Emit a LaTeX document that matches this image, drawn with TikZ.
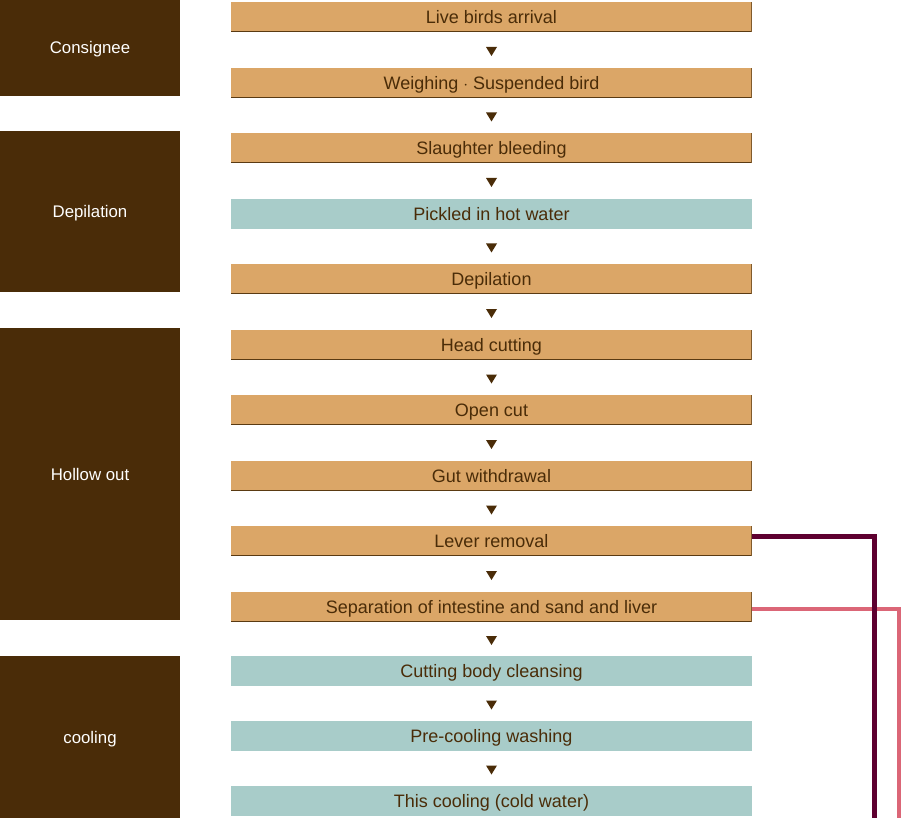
\documentclass[tikz,border=0pt]{standalone}
\usepackage{fontspec}
\setmainfont{Liberation Sans}
\definecolor{boxorange}{HTML}{DBA667}
\definecolor{boxteal}{HTML}{A8CCC9}
\definecolor{sidebrown}{HTML}{4A2C08}
\definecolor{txtbrown}{HTML}{4A2C08}
\definecolor{shadowbrown}{HTML}{5A3A12}
\definecolor{lineplum}{HTML}{5E0030}
\definecolor{linepink}{HTML}{DB6677}
\tikzset{
  stepbox/.style={rectangle, minimum width=521pt, minimum height=30pt, inner sep=0pt, text=txtbrown, font=\fontsize{18}{20}\selectfont, text height=12.9pt, text depth=0pt},
  orangebox/.style={stepbox, fill=boxorange, path picture={\fill[shadowbrown] ([yshift=1.2pt]path picture bounding box.south west) rectangle (path picture bounding box.south east);
    \fill[shadowbrown!70!boxorange] ([xshift=-1pt]path picture bounding box.south east) rectangle (path picture bounding box.north east);}},
  tealbox/.style={stepbox, fill=boxteal},
  sidebox/.style={rectangle, fill=sidebrown, inner sep=0pt, minimum width=180pt, text=white, font=\fontsize{16.8}{19}\selectfont, text height=12pt, text depth=0pt},
  flowarrow/.style={fill=txtbrown, draw=none},
}
\begin{document}
\begin{tikzpicture}[x=1pt,y=-1pt]
\useasboundingbox (0,0) rectangle (902,818);
% side boxes
\node[sidebox, minimum height=96pt] (sa) at (90,48) {Consignee};
\node[sidebox, minimum height=161pt] (sb) at (90,211.5) {Depilation};
\node[sidebox, minimum height=292pt] (sc) at (90,474) {Hollow out};
\node[sidebox, minimum height=162pt] (sd) at (90,737) {cooling};
% steps
\node[orangebox] (n1) at (491.5,17) {Live birds arrival};
\node[orangebox] (n2) at (491.5,83) {Weighing $\cdot$ Suspended bird};
\node[orangebox] (n3) at (491.5,148) {Slaughter bleeding};
\node[tealbox] (n4) at (491.5,214) {Pickled in hot water};
\node[orangebox] (n5) at (491.5,279) {Depilation};
\node[orangebox] (n6) at (491.5,345) {Head cutting};
\node[orangebox] (n7) at (491.5,410) {Open cut};
\node[orangebox] (n8) at (491.5,476) {Gut withdrawal};
\node[orangebox] (n9) at (491.5,541) {Lever removal};
\node[orangebox] (n10) at (491.5,607) {Separation of intestine and sand and liver};
\node[tealbox] (n11) at (491.5,671) {Cutting body cleansing};
\node[tealbox] (n12) at (491.5,736) {Pre-cooling washing};
\node[tealbox] (n13) at (491.5,801) {This cooling (cold water)};
% arrows (triangles between boxes)
\foreach \a/\b in {n1/n2,n2/n3,n3/n4,n4/n5,n5/n6,n6/n7,n7/n8,n8/n9,n9/n10,n10/n11,n11/n12,n12/n13}{
  \path (\a.south) -- (\b.north) coordinate[pos=0.5] (m\a);
  \fill[flowarrow] ([xshift=-5.5pt,yshift=3pt]m\a) -- ([xshift=5.5pt,yshift=3pt]m\a) -- ([yshift=-6pt]m\a) -- cycle;
}
% side connectors
\coordinate (e1) at (874.5,818);
\coordinate (e2) at (899,818);
\draw[linepink, line width=4.5pt] ([yshift=-2pt]n10.east) -| (e2);
\draw[lineplum, line width=5pt] ([yshift=4.5pt]n9.east) -| (e1);
\end{tikzpicture}
\end{document}
